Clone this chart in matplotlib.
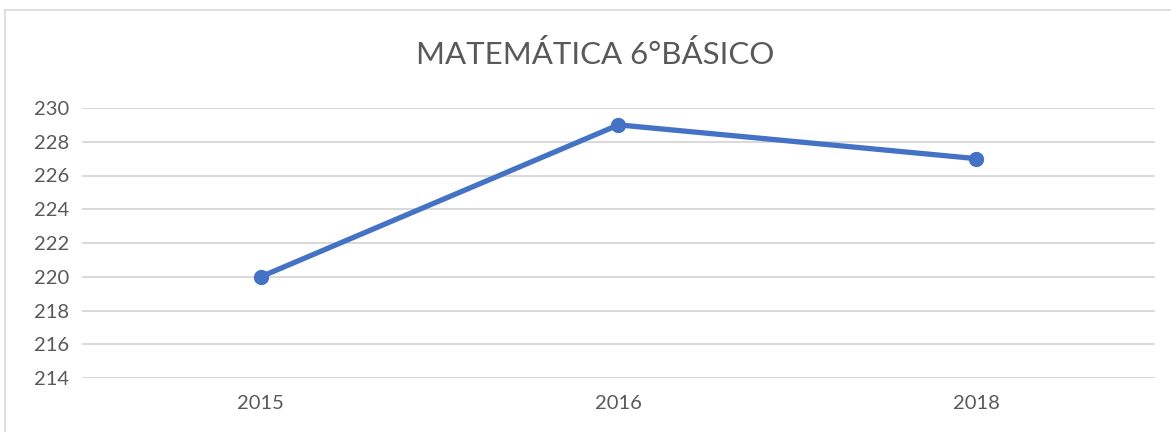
import matplotlib.pyplot as plt
from matplotlib.lines import Line2D

years = ["2015", "2016", "2018"]
scores = [220, 229, 227]
yticks = [214, 216, 218, 220, 222, 224, 226, 228, 230]

W, H = 1171, 432
fig = plt.figure(figsize=(W / 100, H / 100), dpi=100)
plt.rcParams['font.family'] = ['Lato', 'DejaVu Sans']

ax = fig.add_axes([82 / W, 54 / H, (1155 - 82) / W, 270 / H])
x = list(range(len(years)))
ax.plot(x, scores, color="#4472C4", linewidth=3.8, marker="o", markersize=10,
        solid_capstyle="round", zorder=3)
ax.set_xlim(-0.5, len(years) - 0.5)
ax.set_ylim(214, 230)
ax.set_yticks(yticks)
ax.set_xticks(x)
ax.set_xticklabels(years)
ax.grid(axis="y", color="#D9D9D9", linewidth=1.4)
ax.set_axisbelow(True)
for s in ax.spines.values():
    s.set_visible(False)
ax.tick_params(length=0, labelsize=14.5, labelcolor="#595959")
ax.tick_params(axis="y", pad=9)
ax.tick_params(axis="x", pad=12)

fig.text(595 / W, 1 - 55 / H, "MATEMÁTICA 6°BÁSICO", ha="center", va="center",
         fontsize=22.5, color="#595959")

# chart border (right and bottom edges fall outside the picture)
fig.add_artist(Line2D([5.5 / W, 5.5 / W], [0, 1 - 9.5 / H], color="#D9D9D9", linewidth=1.2,
                      transform=fig.transFigure))
fig.add_artist(Line2D([5.5 / W, 1], [1 - 9.5 / H, 1 - 9.5 / H], color="#D9D9D9", linewidth=1.2,
                      transform=fig.transFigure))

fig.savefig("out.png", dpi=100)
